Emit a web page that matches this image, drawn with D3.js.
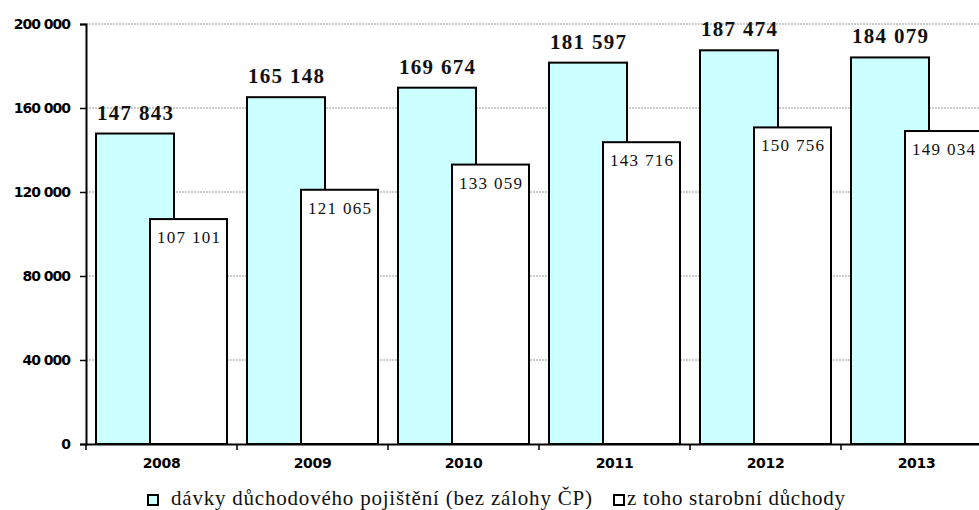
<!DOCTYPE html>
<html>
<head>
<meta charset="utf-8">
<script src="https://cdn.jsdelivr.net/npm/d3@7"></script>
<style>
  html, body { margin: 0; padding: 0; background: #fff; }
  svg { display: block; }
</style>
</head>
<body>
<script>
const years = ["2008", "2009", "2010", "2011", "2012", "2013"];
const benefits = [147843, 165148, 169674, 181597, 187474, 184079];
const oldAge = [107101, 121065, 133059, 143716, 150756, 149034];
const yTicks = [0, 40000, 80000, 120000, 160000, 200000];
const legendLabels = ["dávky důchodového pojištění (bez zálohy ČP)", "z toho starobní důchody"];

const W = 979, H = 510;
const svg = d3.select("body").append("svg").attr("width", W).attr("height", H);

const x = d3.scaleBand().domain(years).range([86, 992]).paddingInner(0).paddingOuter(0);
const y = d3.scaleLinear().domain([0, 200000]).range([444, 24]);
const bw = x.bandwidth();
const fmt = v => d3.format(",")(v).replace(/,/g, " ");

// gridlines
svg.append("g").selectAll("line").data(yTicks.filter(d => d > 0)).join("line")
  .attr("x1", 86).attr("x2", W).attr("y1", d => y(d)).attr("y2", d => y(d))
  .attr("stroke", "#9a9a9a").attr("stroke-width", 1).attr("stroke-dasharray", "2,1");

// y axis
const yAxis = d3.axisLeft(y).tickValues(yTicks).tickSize(6).tickPadding(10).tickFormat(fmt);
const gy = svg.append("g").attr("transform", "translate(86,0)").call(yAxis);
gy.attr("font-size", null).attr("font-family", null);
gy.select(".domain").attr("stroke", "#000").attr("stroke-width", 2);
gy.selectAll(".tick line").attr("stroke", "#000").attr("stroke-width", 1.5);
gy.selectAll(".tick text")
  .style("font-family", "'DejaVu Sans'").style("font-weight", "bold")
  .style("font-size", "14px").style("letter-spacing", "-1px").attr("fill", "#000");

// bars
const cyanOff = 10 / 151, cyanW = 78 / 151, whiteOff = 64 / 151, whiteW = 77 / 151;
svg.append("g").selectAll("rect").data(years).join("rect")
  .attr("x", (d) => x(d) + bw * cyanOff)
  .attr("y", (d, i) => y(benefits[i]))
  .attr("width", bw * cyanW)
  .attr("height", (d, i) => y(0) - y(benefits[i]))
  .attr("fill", "#ccffff").attr("stroke", "#000").attr("stroke-width", 2);

svg.append("g").selectAll("rect").data(years).join("rect")
  .attr("x", (d) => x(d) + bw * whiteOff)
  .attr("y", (d, i) => y(oldAge[i]))
  .attr("width", bw * whiteW)
  .attr("height", (d, i) => y(0) - y(oldAge[i]))
  .attr("fill", "#ffffff").attr("stroke", "#000").attr("stroke-width", 2);

// x axis
const xAxis = d3.axisBottom(x).tickSize(0).tickPadding(14);
const gx = svg.append("g").attr("transform", "translate(0,444)").call(xAxis);
gx.attr("font-size", null).attr("font-family", null);
gx.select(".domain").attr("stroke", "#000").attr("stroke-width", 2);
gx.selectAll(".tick text")
  .style("font-family", "'DejaVu Sans'").style("font-weight", "bold")
  .style("font-size", "14px").style("letter-spacing", "-0.3px").attr("fill", "#000");
svg.append("g").selectAll("line").data(d3.range(years.length + 1)).join("line")
  .attr("x1", i => 86 + i * bw).attr("x2", i => 86 + i * bw)
  .attr("y1", 444).attr("y2", 450)
  .attr("stroke", "#000").attr("stroke-width", 1.5);

// labels cyan
svg.append("g").selectAll("text").data(years).join("text")
  .attr("x", d => x(d) + bw * (cyanOff + cyanW / 2))
  .attr("y", (d, i) => y(benefits[i]) - 14)
  .attr("text-anchor", "middle")
  .attr("font-family", "Liberation Serif").attr("font-weight", "bold").attr("font-size", 21)
  .attr("textLength", 76).attr("lengthAdjust", "spacing")
  .attr("fill", "#111")
  .text((d, i) => fmt(benefits[i]));

// labels white
svg.append("g").selectAll("text").data(years).join("text")
  .attr("x", d => x(d) + bw * (whiteOff + whiteW / 2))
  .attr("y", (d, i) => y(oldAge[i]) + 24)
  .attr("text-anchor", "middle")
  .attr("font-family", "Liberation Serif").attr("font-size", 17)
  .attr("textLength", 63).attr("lengthAdjust", "spacing")
  .attr("fill", "#111")
  .text((d, i) => fmt(oldAge[i]));

// legend
const legend = svg.append("g");
const legendItems = [
  { label: legendLabels[0], fill: "#ccffff", sx: 148, tx: 171, len: 421 },
  { label: legendLabels[1], fill: "#ffffff", sx: 614, tx: 627, len: 218 }
];
legendItems.forEach(it => {
  legend.append("rect").attr("x", it.sx).attr("y", 495).attr("width", 10).attr("height", 10)
    .attr("fill", it.fill).attr("stroke", "#000").attr("stroke-width", 2);
  legend.append("text").attr("x", it.tx).attr("y", 505)
    .attr("font-family", "Liberation Serif").attr("font-size", 21)
    .attr("textLength", it.len).attr("lengthAdjust", "spacing")
    .attr("fill", "#111").text(it.label);
});
</script>
</body>
</html>
